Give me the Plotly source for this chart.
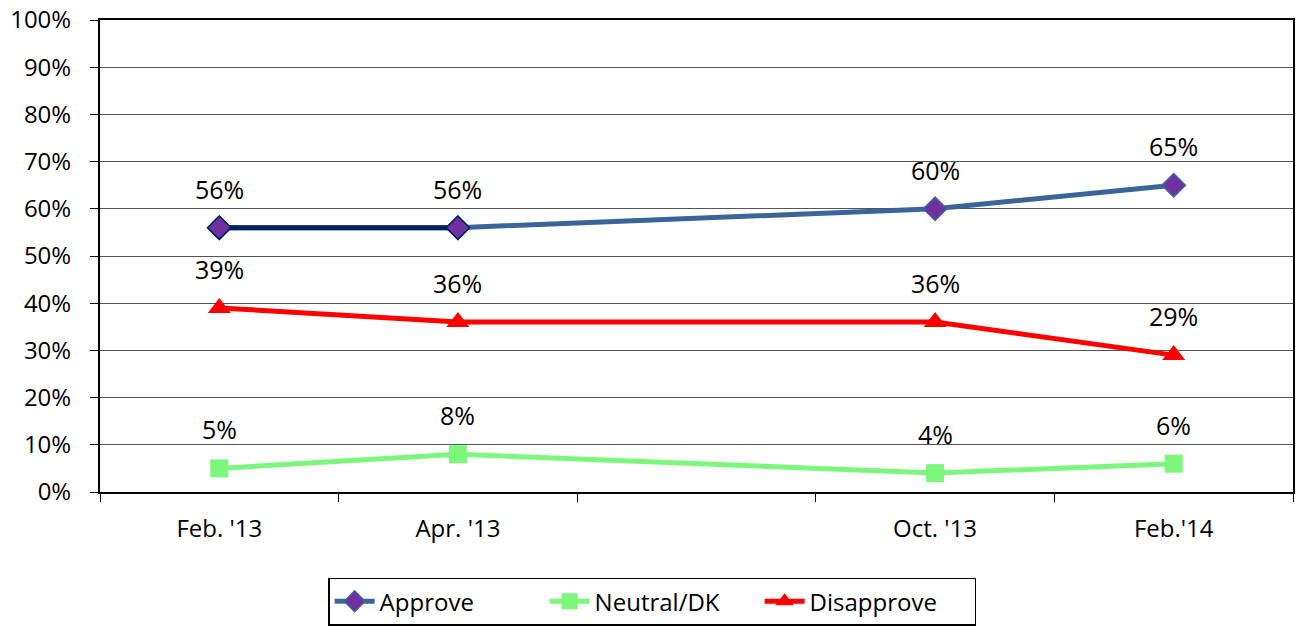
import plotly.graph_objects as go

categories = ["Feb. '13", "Apr. '13", " ", "Oct. '13", "Feb.'14"]
approve = [56, 56, None, 60, 65]
neutral = [5, 8, None, 4, 6]
disapprove = [39, 36, None, 36, 29]
y_ticks = [0, 10, 20, 30, 40, 50, 60, 70, 80, 90, 100]
y_ticktext = [f"{v}%" for v in y_ticks]

FONT = "Open Sans"
BLUE = "#3B6598"
NAVY = "#002060"
PURPLE = "#7030A0"
GREEN = "#7CF77C"
RED = "#FF0000"

fig = go.Figure()

fig.add_trace(go.Scatter(
    x=categories, y=approve, name="Approve", mode="lines+markers",
    connectgaps=True, line=dict(color=BLUE, width=5),
    marker=dict(symbol="diamond", size=18, color=PURPLE, line=dict(color=BLUE, width=1.5)),
))
# darker first segment of the Approve line
fig.add_trace(go.Scatter(
    x=categories[:2], y=approve[:2], mode="lines+markers", showlegend=False,
    line=dict(color=NAVY, width=5),
    marker=dict(symbol="diamond", size=18, color=PURPLE, line=dict(color=NAVY, width=1.5)),
    hoverinfo="skip",
))
fig.add_trace(go.Scatter(
    x=categories, y=neutral, name="Neutral/DK", mode="lines+markers",
    connectgaps=True, line=dict(color=GREEN, width=5),
    marker=dict(symbol="square", size=18, color=GREEN),
))
fig.add_trace(go.Scatter(
    x=categories, y=disapprove, name="Disapprove", mode="lines+markers",
    connectgaps=True, line=dict(color=RED, width=5),
    marker=dict(symbol="triangle-up", size=20, color=RED),
))

annotations = []
for series in (approve, neutral, disapprove):
    for c, v in zip(categories, series):
        if v is None:
            continue
        annotations.append(dict(
            x=c, y=v, text=f"{v}%", showarrow=False, yshift=39,
            font=dict(family=FONT, size=25, color="#000000"),
        ))

fig.update_layout(
    width=1297, height=629, autosize=False,
    margin=dict(l=100, r=2, t=18, b=137),
    paper_bgcolor="white", plot_bgcolor="white",
    font=dict(family=FONT, size=24, color="#000000"),
    showlegend=True,
    legend=dict(
        orientation="h", x=0.4628, xanchor="center", y=-0.1815, yanchor="top",
        bordercolor="#000000", borderwidth=1.5, bgcolor="white",
        font=dict(family=FONT, size=24, color="#000000"),
        itemwidth=40, tracegroupgap=0,
        entrywidth=160, entrywidthmode="pixels",
    ),
    annotations=annotations,
    xaxis=dict(
        type="category", categoryorder="array", categoryarray=categories,
        range=[-0.5, len(categories) - 0.5],
        tickson="boundaries", ticks="outside", ticklen=8, tickcolor="#000000", tickwidth=1,
        showline=True, linecolor="#000000", linewidth=2, mirror=True,
        showgrid=False, zeroline=False, ticklabelstandoff=14,
        tickfont=dict(family=FONT, size=24),
    ),
    yaxis=dict(
        range=[0, 100], tickvals=y_ticks, ticktext=y_ticktext,
        ticks="outside", ticklen=8, tickcolor="#000000", tickwidth=1,
        showline=True, linecolor="#000000", linewidth=2, mirror=True,
        showgrid=True, gridcolor="#555555", gridwidth=1, zeroline=False,
        ticklabelstandoff=14, tickfont=dict(family=FONT, size=24),
    ),
)

fig.write_html(
    "out.html",
    config={"displayModeBar": False, "responsive": False},
    post_script="document.body.style.margin='0px';document.body.style.overflow='hidden';",
)
